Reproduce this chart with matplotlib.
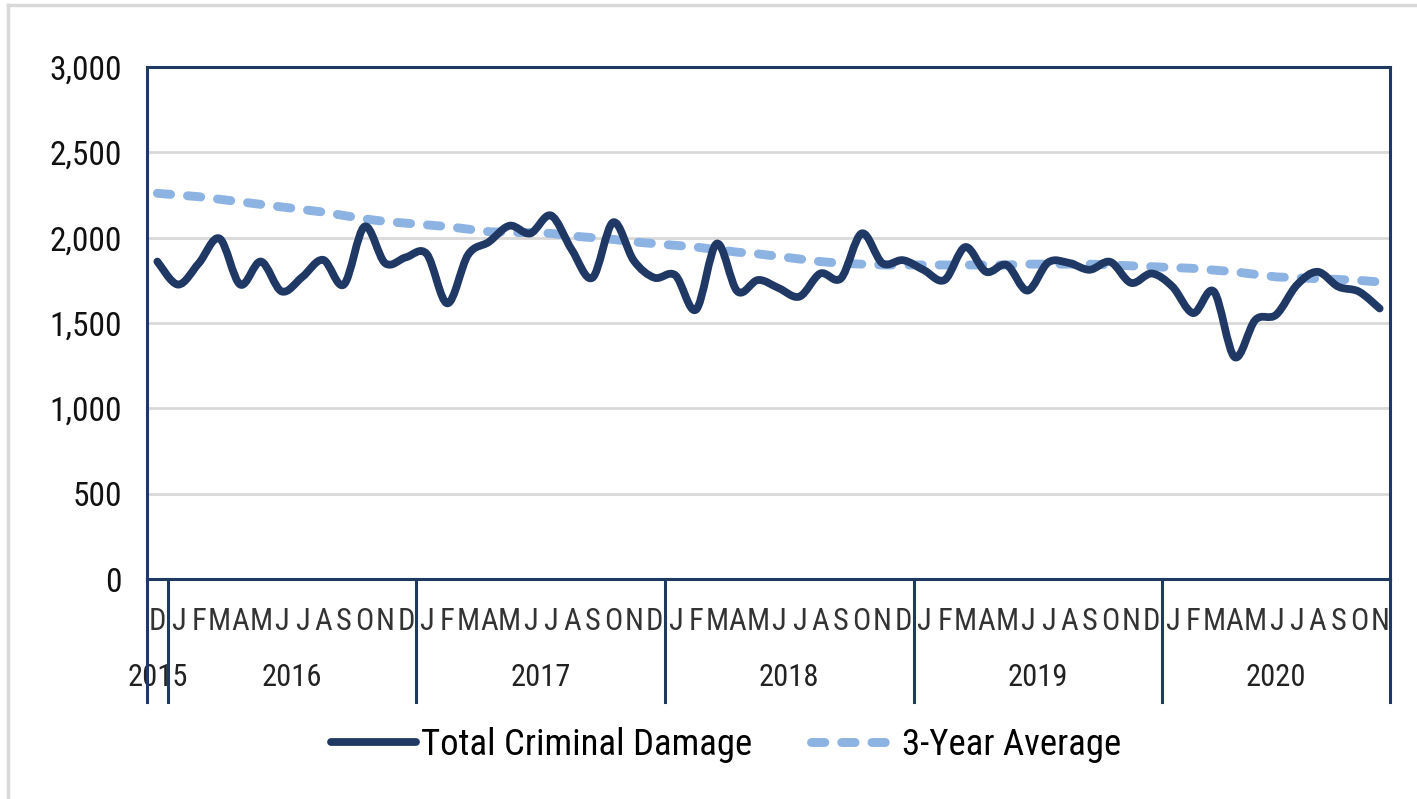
import matplotlib
matplotlib.use("Agg")
import matplotlib.pyplot as plt
import numpy as np
from matplotlib.path import Path
from matplotlib.patches import PathPatch
from matplotlib.lines import Line2D
from matplotlib.ticker import FuncFormatter
import matplotlib.transforms as mtransforms

plt.rcParams['font.family'] = ['Roboto Condensed', 'Liberation Sans', 'DejaVu Sans']

months = ["D",
          "J", "F", "M", "A", "M", "J", "J", "A", "S", "O", "N", "D",
          "J", "F", "M", "A", "M", "J", "J", "A", "S", "O", "N", "D",
          "J", "F", "M", "A", "M", "J", "J", "A", "S", "O", "N", "D",
          "J", "F", "M", "A", "M", "J", "J", "A", "S", "O", "N", "D",
          "J", "F", "M", "A", "M", "J", "J", "A", "S", "O", "N"]
years = ["2015", "2016", "2017", "2018", "2019", "2020"]
year_counts = [1, 12, 12, 12, 12, 11]

total_damage = [1860,
                1725, 1850, 1995, 1725, 1860, 1685, 1770, 1870, 1725, 2065, 1850, 1885,
                1905, 1615, 1900, 1975, 2070, 2025, 2130, 1930, 1765, 2090, 1865, 1765,
                1780, 1578, 1965, 1685, 1752, 1704, 1655, 1790, 1762, 2025, 1850, 1868,
                1810, 1752, 1945, 1800, 1840, 1690, 1855, 1852, 1812, 1858, 1735, 1790,
                1713, 1558, 1684, 1300, 1518, 1548, 1722, 1800, 1713, 1684, 1585]
three_year_avg = [2260,
                  2250, 2240, 2225, 2210, 2195, 2180, 2165, 2150, 2130, 2110, 2095, 2085,
                  2075, 2065, 2050, 2035, 2030, 2030, 2025, 2010, 2000, 1990, 1975, 1965,
                  1955, 1945, 1930, 1915, 1905, 1890, 1875, 1860, 1850, 1845, 1840, 1840,
                  1840, 1840, 1840, 1840, 1840, 1845, 1845, 1845, 1845, 1840, 1835, 1830,
                  1825, 1820, 1810, 1800, 1785, 1770, 1765, 1760, 1755, 1750, 1740]

NAVY = '#1F3864'
LBLUE = '#8DB3E2'
BORDER = '#1F3A60'

fig = plt.figure(figsize=(14.17, 7.99), dpi=100)
ax = fig.add_axes([147/1417, 1-579/799, (1390-147)/1417, (579-67)/799])

n = len(total_damage)
x = np.arange(n)

def smooth_path(xs, ys):
    pts = np.column_stack([xs, ys]).astype(float)
    verts = [pts[0]]
    codes = [Path.MOVETO]
    for i in range(len(pts) - 1):
        p0 = pts[i - 1] if i > 0 else pts[i]
        p1 = pts[i]
        p2 = pts[i + 1]
        p3 = pts[i + 2] if i + 2 < len(pts) else pts[i + 1]
        c1 = p1 + (p2 - p0) / 6.0
        c2 = p2 - (p3 - p1) / 6.0
        verts += [c1, c2, p2]
        codes += [Path.CURVE4] * 3
    return Path(verts, codes)

DASH = (0, (1.5, 1.9))

# 3-year average (dashed)
ax.plot(x, three_year_avg, color=LBLUE, lw=6.4, linestyle=DASH,
        dash_capstyle='round', solid_joinstyle='round', zorder=3)

# Total (smoothed)
patch = PathPatch(smooth_path(x, total_damage), facecolor='none', edgecolor=NAVY,
                  lw=5.6, capstyle='round', joinstyle='round', zorder=4)
ax.add_patch(patch)

ax.set_xlim(-0.5, n - 0.5)
ax.set_ylim(0, 3000)
ax.set_yticks(np.arange(0, 3001, 500))
ax.yaxis.set_major_formatter(FuncFormatter(lambda v, p: f"{int(v):,}"))
ax.grid(axis='y', color='#D9D9D9', lw=2.0, zorder=0)
ax.set_axisbelow(True)
ax.tick_params(axis='y', length=0, pad=18, labelsize=24, labelcolor='#111111')

ax.set_xticks(x)
ax.set_xticklabels(months)
ax.tick_params(axis='x', length=0, pad=20, labelsize=22, labelcolor='#333333')

for s in ax.spines.values():
    s.set_color(BORDER)
    s.set_linewidth(2.2)

# year separators and labels
trans = mtransforms.blended_transform_factory(ax.transData, ax.transAxes)
y_low = -(702 - 579) / 512
bounds = [-0.5]
start = 0
for yr, c in zip(years, year_counts):
    end = start + c
    bounds.append(end - 0.5)
    ax.text((start + end - 1) / 2, -(678 - 579) / 512, yr, transform=trans,
            ha='center', va='center', fontsize=22, color='#222222')
    start = end
for b in bounds:
    ax.plot([b, b], [0, y_low], transform=trans, color=BORDER, lw=2.2,
            clip_on=False, zorder=5)

# legend
handles = [Line2D([], [], color=NAVY, lw=5.6, solid_capstyle='round'),
           Line2D([], [], color=LBLUE, lw=6.4, linestyle=DASH,
                  dash_capstyle='round')]
fig.legend(handles, ["Total Criminal Damage", "3-Year Average"], ncol=2,
           loc='center', bbox_to_anchor=(726/1417, 1-745/799), frameon=False,
           fontsize=26.5, handlelength=2.3, handletextpad=0.15, columnspacing=1.6)

# outer light border
fig.add_artist(Line2D([8/1417, 8/1417], [0, 1-5/799], color='#D9D9D9', lw=2.5,
                      transform=fig.transFigure))
fig.add_artist(Line2D([8/1417, 1], [1-5/799, 1-5/799], color='#D9D9D9', lw=2.5,
                      transform=fig.transFigure))

fig.savefig("out.png", dpi=100)
